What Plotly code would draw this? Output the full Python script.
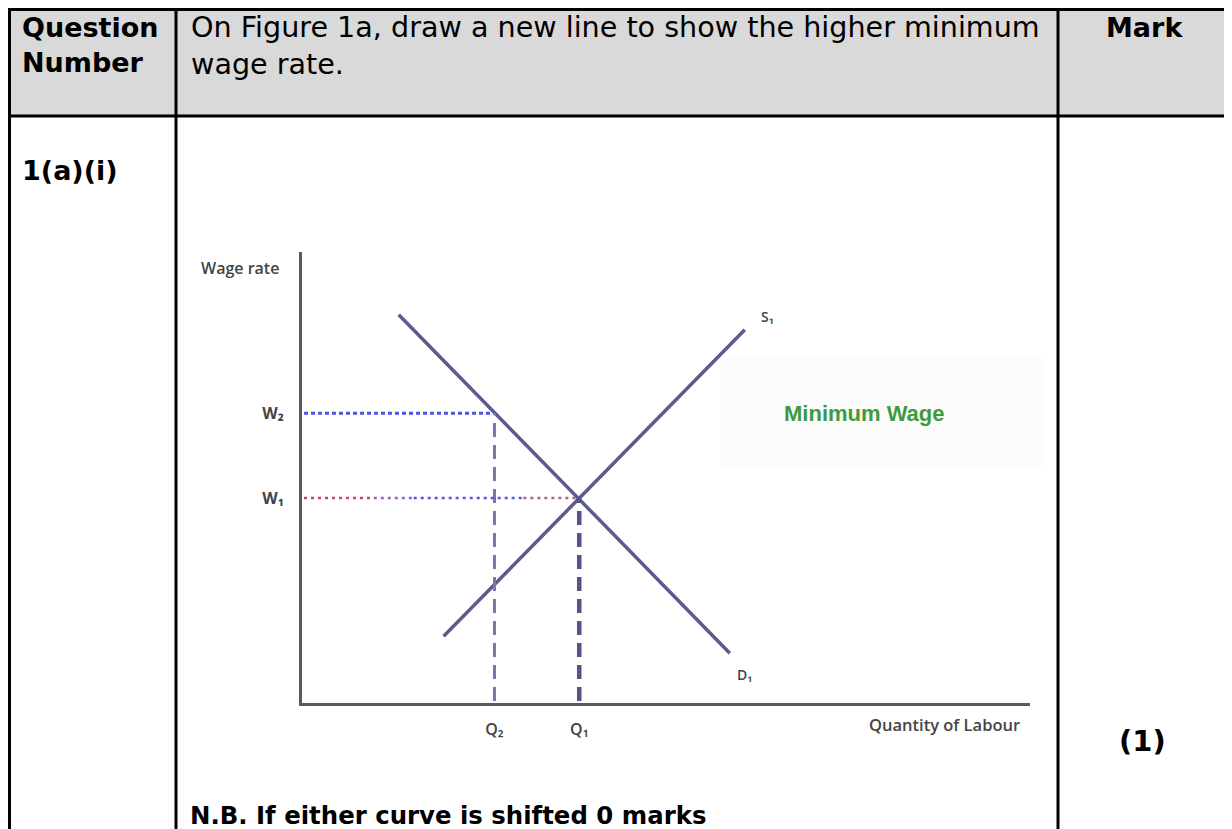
import plotly.graph_objects as go

# --- table text ---
header_q = "Question<br>Number"
header_text = "On Figure 1a, draw a new line to show the higher minimum<br>wage rate."
header_mark = "Mark"
question_id = "1(a)(i)"
mark_value = "(1)"
note_text = "N.B. If either curve is shifted 0 marks"

# --- diagram data (quantity, wage) ---
demand_q = [9.5, 42.7]
demand_w = [38.8, 4.8]
supply_q = [14.0, 44.2]
supply_w = [6.5, 37.3]
q_eq, w_eq = 27.6, 20.4      # Q1, W1
q_min, w_min = 19.1, 28.9    # Q2, W2
w1_breaks = [0, 7, 11, 22, q_eq]
w1_colors = ["#cc4466", "#9a62c8", "#5656ee", "#a4668e"]
x_tick_text = ["Q\u2082", "Q\u2081"]
y_tick_text = ["W\u2082", "W\u2081"]

W, H = 1232, 829
OFF = 8  # page body margin


def px(x):
    return (x - OFF) / W


def py(y):
    return 1 - (y - OFF) / H


fig = go.Figure()

curve_col = "#5c5a8e"
fig.add_trace(go.Scatter(x=demand_q, y=demand_w, mode="lines",
                         line=dict(color=curve_col, width=3.5), hoverinfo="skip"))
fig.add_trace(go.Scatter(x=supply_q, y=supply_w, mode="lines",
                         line=dict(color=curve_col, width=3.5), hoverinfo="skip"))

# W2 dotted guide and Q2 dashed drop
fig.add_trace(go.Scatter(x=[0, q_min], y=[w_min, w_min], mode="lines",
                         line=dict(color="#5050ee", width=3, dash="4px,3px"), hoverinfo="skip"))
fig.add_trace(go.Scatter(x=[q_min, q_min], y=[0, w_min], mode="lines",
                         line=dict(color="#7876aa", width=3, dash="14px,8px"), hoverinfo="skip"))

# W1 dotted guide (colour drifts red -> blue -> red) and Q1 dashed drop
for i, c in enumerate(w1_colors):
    fig.add_trace(go.Scatter(x=[w1_breaks[i], w1_breaks[i + 1]], y=[w_eq, w_eq], mode="lines",
                             line=dict(color=c, width=2.5, dash="3px,4px"), hoverinfo="skip"))
fig.add_trace(go.Scatter(x=[q_eq, q_eq], y=[0, w_eq], mode="lines",
                         line=dict(color="#54548a", width=4.5, dash="14px,8px"), hoverinfo="skip"))

# curve labels
small = dict(family="Open Sans", size=14, color="#444", weight=600)
fig.add_annotation(x=supply_q[1] + 2.3, y=supply_w[1] + 1.3, text="S\u2081", showarrow=False, font=small)
fig.add_annotation(x=demand_q[1] + 1.5, y=demand_w[1] - 2.1, text="D\u2081", showarrow=False, font=small)

# faint box behind the green label
fig.add_shape(type="rect", xref="paper", yref="paper",
              x0=px(720), x1=px(1043), y0=py(467), y1=py(358),
              fillcolor="#fbfbfb", line=dict(width=0), layer="below")
fig.add_annotation(xref="paper", yref="paper", x=px(864), y=py(413), xanchor="center", yanchor="middle",
                   text="Minimum Wage", showarrow=False,
                   font=dict(family="Liberation Sans", size=22, color="#3e9a3e", weight="bold"))

axis_font = dict(family="Open Sans", size=16, color="#444", weight=600)
fig.add_annotation(xref="paper", yref="paper", x=px(240), y=py(268), xanchor="center", yanchor="middle",
                   text="Wage rate", showarrow=False, font=axis_font)
fig.add_annotation(xref="paper", yref="paper", x=px(944), y=py(724), xanchor="center", yanchor="middle",
                   text="Quantity of Labour", showarrow=False, font=dict(axis_font, size=16.5))

# --- table frame ---
line_k = dict(color="black", width=3)
fig.add_shape(type="rect", xref="paper", yref="paper", x0=0, x1=1, y0=py(116), y1=1,
              fillcolor="#d9d9d9", line=dict(width=0), layer="below")
for y in (9.5, 116):
    fig.add_shape(type="line", xref="paper", yref="paper", x0=0, x1=1, y0=py(y), y1=py(y), line=line_k)
for x in (9.5, 176, 1058):
    fig.add_shape(type="line", xref="paper", yref="paper", x0=px(x), x1=px(x), y0=-0.02, y1=1,
                  line=line_k)

body = dict(family="DejaVu Sans", size=28.6, color="black")
bold = dict(family="DejaVu Sans", size=27, color="black", weight="bold")
fig.add_annotation(xref="paper", yref="paper", x=px(20), y=py(10), xanchor="left", yanchor="top",
                   text=header_q, showarrow=False, align="left", font=bold)
fig.add_annotation(xref="paper", yref="paper", x=px(189), y=py(8), xanchor="left", yanchor="top",
                   text=header_text, showarrow=False, align="left", font=body)
fig.add_annotation(xref="paper", yref="paper", x=px(1144), y=py(10), xanchor="center", yanchor="top",
                   text=header_mark, showarrow=False, font=bold)
fig.add_annotation(xref="paper", yref="paper", x=px(20), y=py(170), xanchor="left", yanchor="middle",
                   text=question_id, showarrow=False, font=bold)
fig.add_annotation(xref="paper", yref="paper", x=px(1117), y=py(741), xanchor="left", yanchor="middle",
                   text=mark_value, showarrow=False, font=dict(bold, size=29))
fig.add_annotation(xref="paper", yref="paper", x=px(188), y=py(815), xanchor="left", yanchor="middle",
                   text=note_text, showarrow=False, font=dict(bold, size=24.4))

fig.update_layout(
    width=W, height=H,
    margin=dict(l=0, r=0, t=0, b=0),
    paper_bgcolor="white", plot_bgcolor="white",
    showlegend=False,
    xaxis=dict(domain=[px(302), px(1030)], range=[-0.2, 72.8], showgrid=False, zeroline=False,
               showline=True, linecolor="#5a5a5a", linewidth=3,
               tickvals=[q_min, q_eq], ticktext=x_tick_text, ticks="", ticklabelstandoff=10,
               tickfont=dict(family="Open Sans", size=16, color="#444", weight=600)),
    yaxis=dict(domain=[py(703), py(252)], range=[-0.2, 45.1], showgrid=False, zeroline=False,
               showline=True, linecolor="#5a5a5a", linewidth=3,
               tickvals=[w_min, w_eq], ticktext=y_tick_text, ticks="", ticklabelstandoff=12,
               tickfont=dict(family="Open Sans", size=16, color="#444", weight=700)),
)

fig.write_html("out.html")
